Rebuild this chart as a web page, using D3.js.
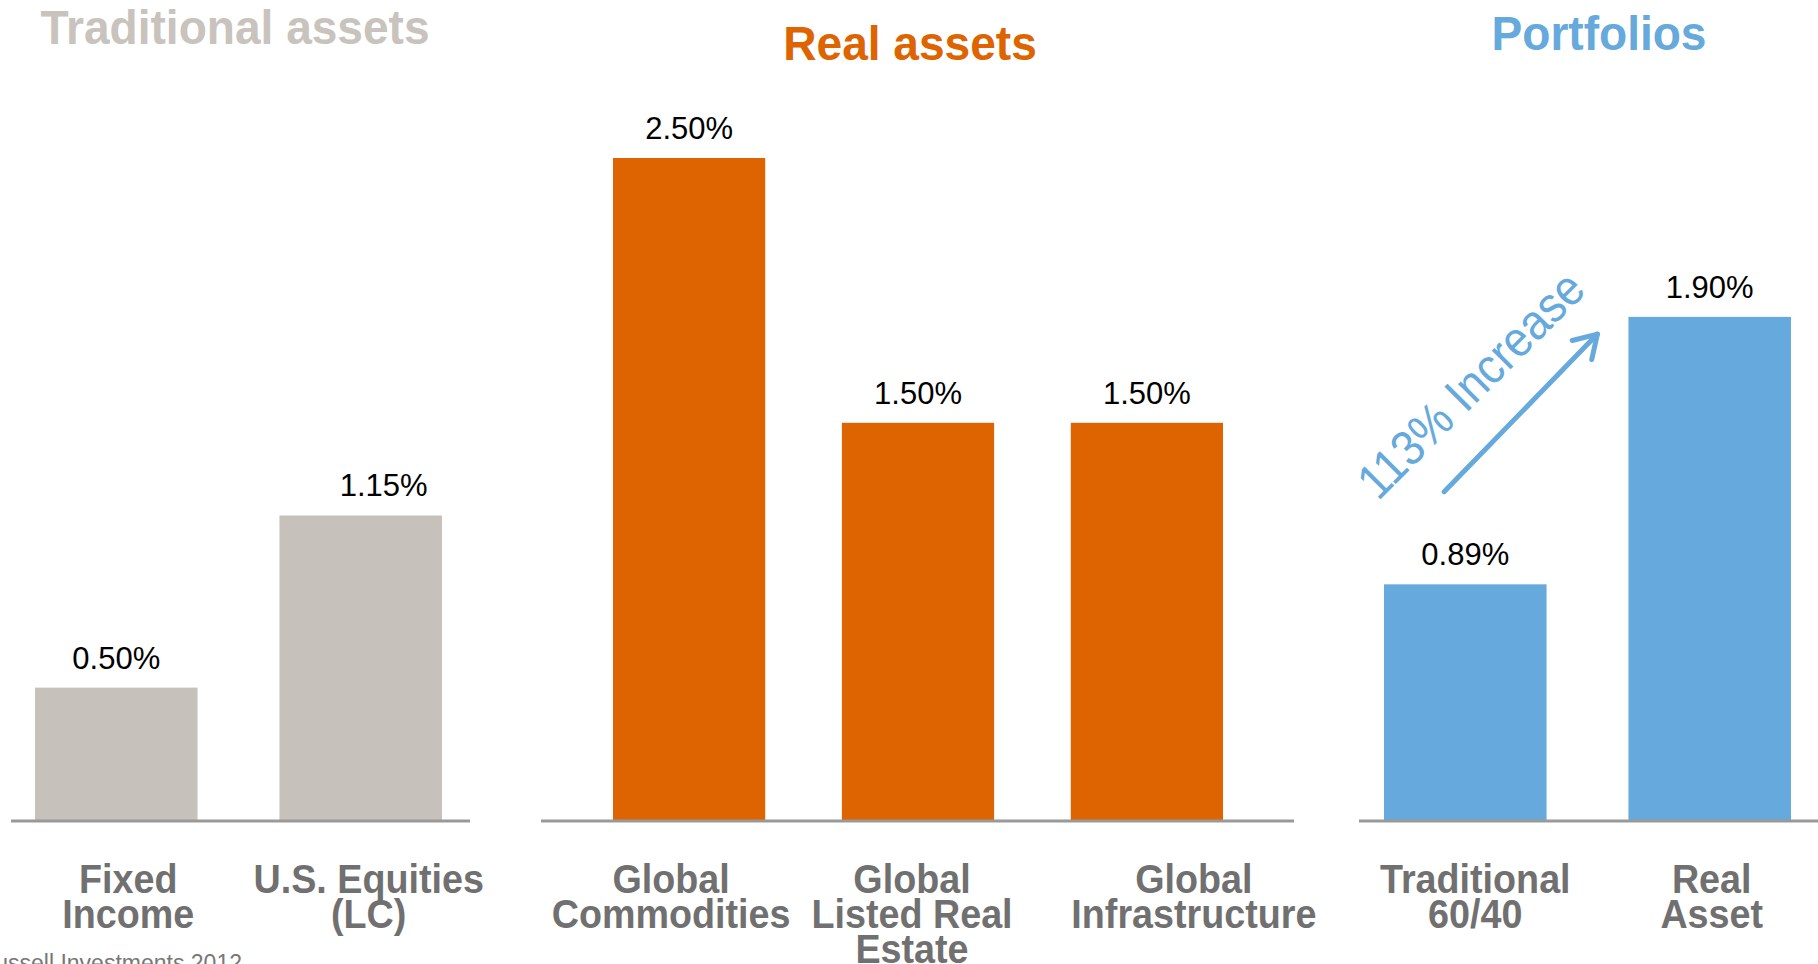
<!DOCTYPE html>
<html>
<head>
<meta charset="utf-8">
<script src="https://cdn.jsdelivr.net/npm/d3@7"></script>
<style>
  body { margin: 0; background: #fff; }
  svg { display: block; font-family: 'Liberation Sans', Arial, sans-serif; }
</style>
</head>
<body>
<svg id="chart" width="1818" height="964"></svg>
<script>
// data
const groups = ['Traditional assets', 'Real assets', 'Portfolios']
const categories = [
  'Fixed\nIncome', 'U.S. Equities\n(LC)',
  'Global\nCommodities', 'Global\nListed Real\nEstate', 'Global\nInfrastructure',
  'Traditional\n60/40', 'Real\nAsset'
]
const categoryGroup = [0, 0, 1, 1, 1, 2, 2]
const values = [0.50, 1.15, 2.50, 1.50, 1.50, 0.89, 1.90]
const valueDomain = [0, 2.5]
const annotationText = '113% Increase'
const sourceText = 'Source: Russell Investments 2012'

// layout + styles
const c = {
  width: 1818,
  height: 964,
  baseline: 820,
  top: 158,
  padding: 0.335,
  barColors: ['#c6c2bb', '#dd6400', '#66a9dc'],
  titleColors: ['#c8c3bc', '#dd6400', '#66a9dc'],
  panels: [
    { axis: [11, 470], bars: [35, 442], title: [235, 44] },
    { axis: [541, 1294], bars: [613, 1223], title: [910, 60] },
    { axis: [1359, 1818], bars: [1384, 1791], title: [1599, 50] },
  ],
  labelShift: [12, 8, -18, -6, 47, 10, 2],
  valueShift: [0, 23, 0, 0, 0, 0, 0],
  labelTop: 893,
  lineHeight: 35,
}

const svg = d3.select('#chart')
const fmt = (v) => d3.format('.2f')(v) + '%'

const yScale = d3.scaleLinear(valueDomain, [c.baseline, c.top])

// one band scale per panel
const xScales = c.panels.map((p, g) => {
  const cats = categories.filter((_, i) => categoryGroup[i] === g)
  return d3.scaleBand(cats, p.bars).paddingInner(c.padding).paddingOuter(0)
})

const rows = categories.map((name, i) => ({
  name,
  value: values[i],
  group: categoryGroup[i],
  i,
}))
const xOf = (d) => xScales[d.group](d.name)
const bw = (d) => xScales[d.group].bandwidth()

// bars
svg.append('g')
  .selectAll('rect')
  .data(rows)
  .join('rect')
  .attr('x', xOf)
  .attr('y', (d) => yScale(d.value))
  .attr('width', bw)
  .attr('height', (d) => yScale(0) - yScale(d.value))
  .attr('fill', (d) => c.barColors[d.group])

// baselines
svg.append('g')
  .selectAll('line')
  .data(c.panels)
  .join('line')
  .attr('x1', (p) => p.axis[0])
  .attr('x2', (p) => p.axis[1])
  .attr('y1', yScale(0) + 1)
  .attr('y2', yScale(0) + 1)
  .attr('stroke', '#999')
  .attr('stroke-width', 3)

// value labels
svg.append('g')
  .selectAll('text')
  .data(rows)
  .join('text')
  .attr('x', (d) => xOf(d) + bw(d) / 2 + c.valueShift[d.i])
  .attr('y', (d) => yScale(d.value) - 19)
  .attr('text-anchor', 'middle')
  .attr('font-size', 31)
  .attr('fill', '#000')
  .text((d) => fmt(d.value))

// category labels
svg.append('g')
  .selectAll('text')
  .data(rows)
  .join('text')
  .attr('transform', (d) => `translate(${ xOf(d) + bw(d) / 2 + c.labelShift[d.i] },${ c.labelTop }) scale(0.92,1)`)
  .attr('text-anchor', 'middle')
  .attr('font-size', 41)
  .attr('font-weight', 'bold')
  .attr('fill', '#707070')
  .selectAll('tspan')
  .data((d) => d.name.split('\n'))
  .join('tspan')
  .attr('x', 0)
  .attr('dy', (_, j) => (j ? c.lineHeight : 0))
  .text((t) => t)

// group titles
svg.append('g')
  .selectAll('text')
  .data(groups)
  .join('text')
  .attr('transform', (_, g) => `translate(${ c.panels[g].title[0] },${ c.panels[g].title[1] }) scale(0.96,1)`)
  .attr('text-anchor', 'middle')
  .attr('font-size', 48)
  .attr('font-weight', 'bold')
  .attr('fill', (_, g) => c.titleColors[g])
  .text((t) => t)

// annotation arrow, placed in value space between the two portfolio bars
const from = rows[5]
const to = rows[6]
const x0 = xOf(from) + bw(from) * 0.37
const y0 = yScale(1.24)
const x1 = xOf(to) - 31
const y1 = yScale(1.835)
const ang = Math.atan2(y1 - y0, x1 - x0)
const arm = 26
const spread = 0.55
const head = [
  [x1 + arm * Math.cos(ang + Math.PI - spread), y1 + arm * Math.sin(ang + Math.PI - spread)],
  [x1, y1],
  [x1 + arm * Math.cos(ang + Math.PI + spread), y1 + arm * Math.sin(ang + Math.PI + spread)],
]
const line = d3.line()
const arrow = svg.append('g')
  .attr('stroke', c.barColors[2])
  .attr('stroke-width', 5)
  .attr('fill', 'none')
  .attr('stroke-linecap', 'round')
  .attr('stroke-linejoin', 'round')
arrow.append('path').attr('d', line([[x0, y0], [x1, y1]]))
arrow.append('path').attr('d', line(head))

svg.append('text')
  .attr('transform', `translate(${ (x0 + x1) / 2 - 38 },${ (y0 + y1) / 2 - 16 }) rotate(-45) scale(0.9,1)`)
  .attr('text-anchor', 'middle')
  .attr('font-size', 50)
  .attr('fill', c.barColors[2])
  .text(annotationText)

// source, clipped at the left edge like the original slide
svg.append('text')
  .attr('x', 242)
  .attr('y', 971)
  .attr('text-anchor', 'end')
  .attr('font-size', 23)
  .attr('fill', '#777')
  .text(sourceText)
</script>
</body>
</html>
